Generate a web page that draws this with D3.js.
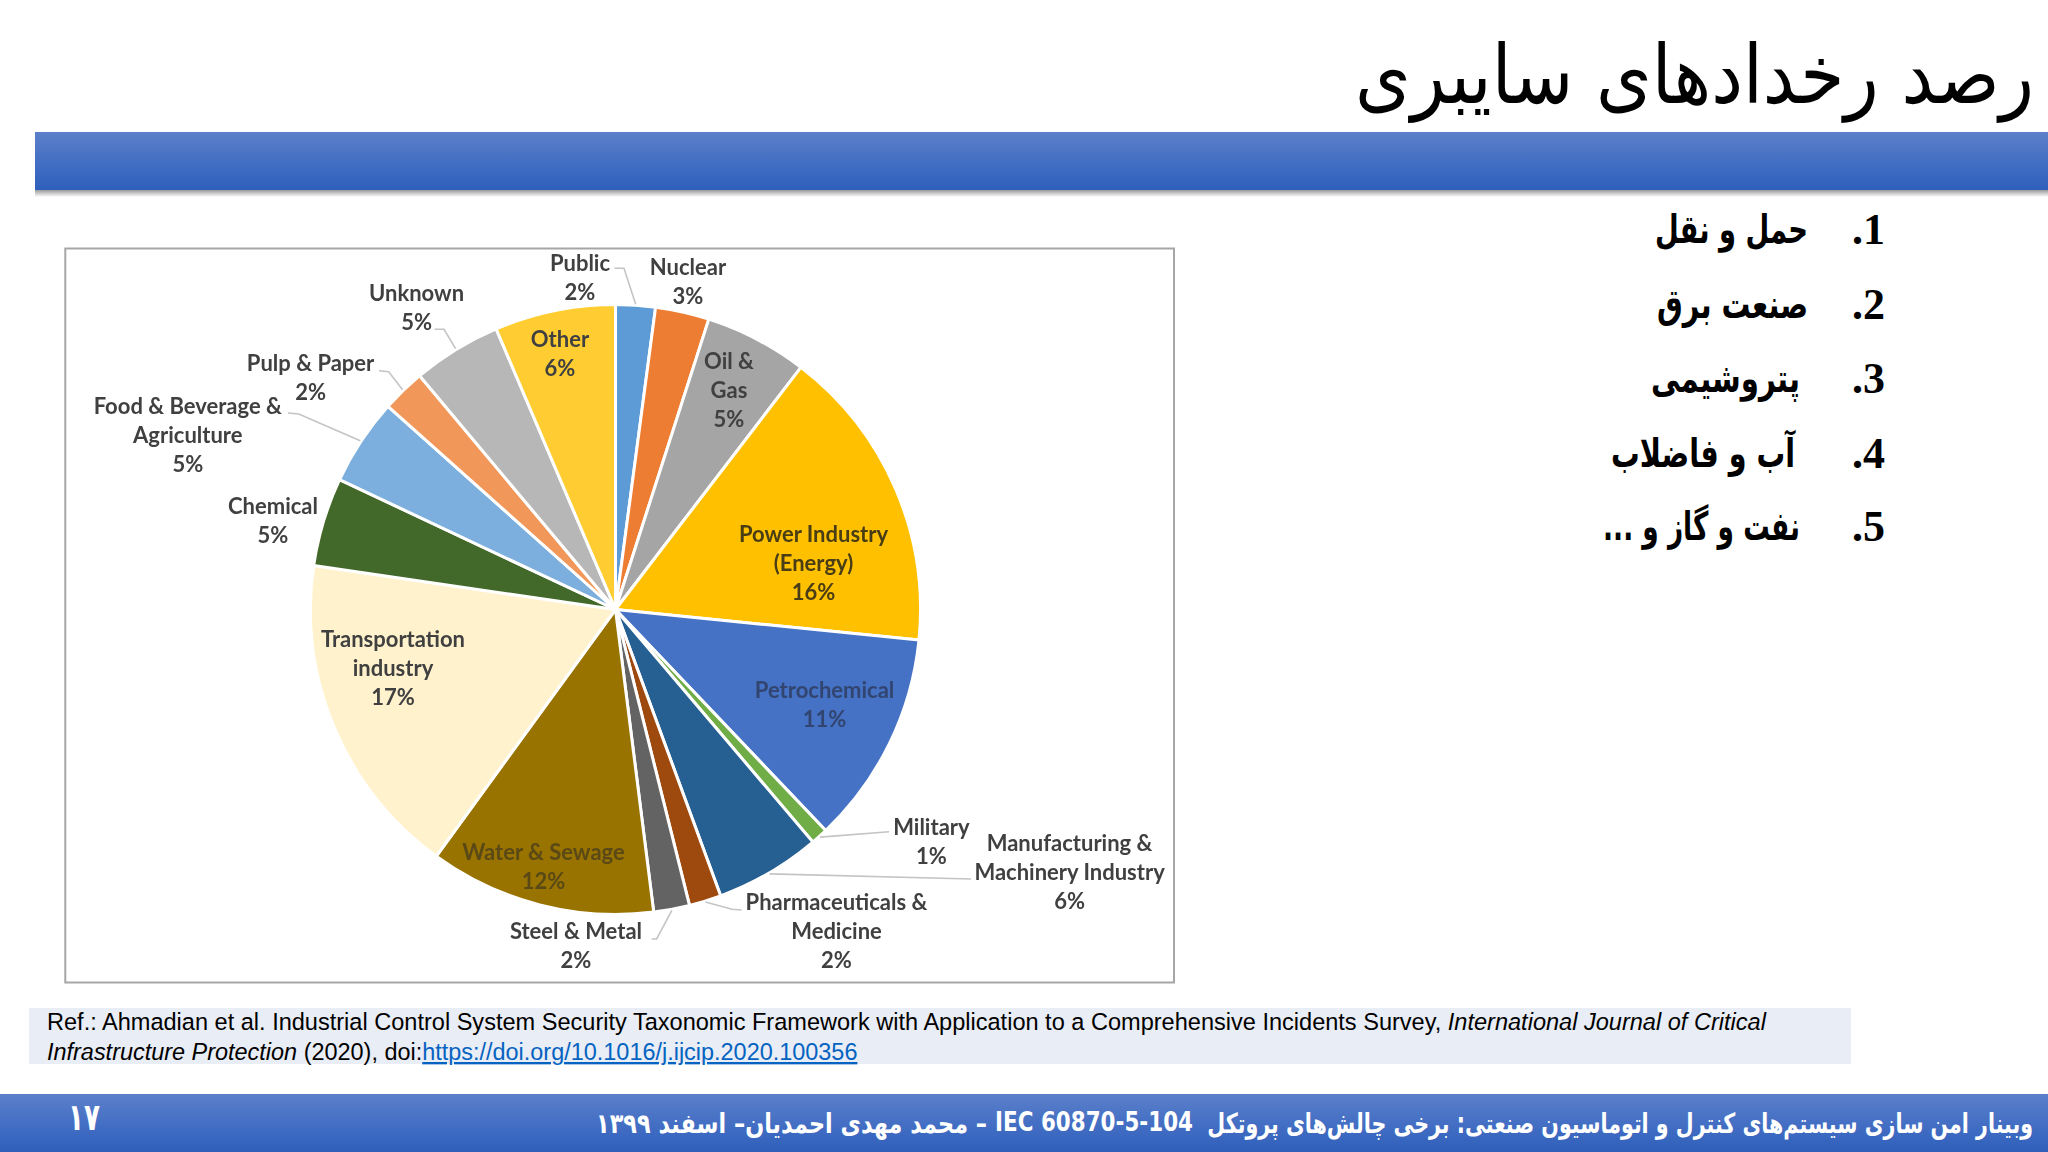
<!DOCTYPE html>
<html lang="fa"><head><meta charset="utf-8">
<script src="https://cdnjs.cloudflare.com/ajax/libs/d3/7.8.5/d3.min.js"></script>
<style>html,body{margin:0;padding:0;background:#fff;overflow:hidden}svg{display:block}</style>
</head><body><svg id="c" width="2048" height="1152" xmlns="http://www.w3.org/2000/svg"></svg>
<script>
// ---- data ----
const sectors = ["Public","Nuclear","Oil & Gas","Power Industry (Energy)","Petrochemical","Military","Manufacturing & Machinery Industry","Pharmaceuticals & Medicine","Steel & Metal","Water & Sewage","Transportation industry","Chemical","Food & Beverage & Agriculture","Pulp & Paper","Unknown","Other"];
const shares = [2.1,2.85,5.45,16.2,11.3,0.9,5.6,1.7,1.9,12,17.3,4.7,4.6,2.3,4.7,6.4];
const percentLabels = ["2%","3%","5%","16%","11%","1%","6%","2%","2%","12%","17%","5%","5%","2%","5%","6%"];
const sliceColors = ["#5b9bd5","#ed7d31","#a5a5a5","#ffc000","#4472c4","#70ad47","#255e91","#9e480e","#636363","#997300","#fff2cc","#43682b","#7cafdd","#f1975a","#b7b7b7","#ffcd33"];
const labelLines = [["Public"],["Nuclear"],["Oil &","Gas"],["Power Industry","(Energy)"],["Petrochemical"],["Military"],["Manufacturing &","Machinery Industry"],["Pharmaceuticals &","Medicine"],["Steel & Metal"],["Water & Sewage"],["Transportation","industry"],["Chemical"],["Food & Beverage &","Agriculture"],["Pulp & Paper"],["Unknown"],["Other"]];
const titleText = "رصد رخدادهای سایبری";
const listItems = ["حمل و نقل","صنعت برق","پتروشیمی","آب و فاضلاب","نفت و گاز و ..."];
const listNumbers = ["1.","2.","3.","4.","5."];
const footerParts = ["وبینار امن سازی سیستم‌های کنترل و اتوماسیون صنعتی: برخی چالش‌های پروتکل","IEC 60870-5-104","– محمد مهدی احمدیان– اسفند  ۱۳۹۹"];
const pageNumber = "۱۷";

// ---- layout (not data) ----
const W = 2048, H = 1152;
const pieCx = 615.5, pieCy = 609.5, pieR = 305;
const labelPos = [[580,263.5],[688,267.5],[729,361.5],[813.5,534.5],[824.6,690.5],[931.4,827.5],[1069.6,843.5],[836.5,902],[576,931],[543.5,852],[393,639.5],[273,506],[187.8,406.5],[310.6,363.5],[416.6,293.5],[560,339.5]];
const labelFill = {4:"#33456f",9:"#5a4a14",3:"#4a3c12"};
const leaders = {0:[[614.5,268.3],[624,268.3]],14:[[434.6,329.3],[444,329.3]],13:[[379,370.7],[388.7,371.7]],12:[[288,413],[298.8,414]],5:[[889,831.7]],6:[[971,879]],7:[[741.6,910],[732,909.3]],8:[[651.7,939],[656.6,939]]};

const svg = d3.select("#c");
const defs = svg.append("defs");
const grad = defs.append("linearGradient").attr("id","band").attr("x1",0).attr("x2",0).attr("y1",0).attr("y2",1);
grad.append("stop").attr("offset","0").attr("stop-color","#5c80ca");
grad.append("stop").attr("offset","0.5").attr("stop-color","#446fc4");
grad.append("stop").attr("offset","1").attr("stop-color","#2f5fbb");
const shade = defs.append("linearGradient").attr("id","shade").attr("x1",0).attr("x2",0).attr("y1",0).attr("y2",1);
shade.append("stop").attr("offset","0").attr("stop-color","#9a9a9a");
shade.append("stop").attr("offset","1").attr("stop-color","#ffffff");
defs.append("filter").attr("id","soft").attr("x","-5%").attr("y","-5%").attr("width","110%").attr("height","110%")
  .append("feGaussianBlur").attr("stdDeviation",0.55);

svg.append("rect").attr("width",W).attr("height",H).attr("fill","#fff");

// Fits a text to a target width by scaling around its anchor; sy stretches it vertically.
function fit(sel, x, y, width, sy){
  const w = sel.node().getComputedTextLength();
  sel.attr("transform",`translate(${x},${y}) scale(${width/w},${sy||1})`);
  return sel;
}
function rtlText(parent, str, fam, size, weight, fill){
  return parent.append("text").text(str)
    .attr("font-family",fam).attr("font-size",size).attr("font-weight",weight).attr("fill",fill)
    .style("direction","rtl").style("unicode-bidi","embed").attr("text-anchor","start");
}
const persian = "'DejaVu Sans'";

// Header
fit(rtlText(svg,titleText,persian,58,400,"#000"),2034,103,679,1.4);
svg.append("rect").attr("x",35).attr("y",190).attr("width",W-35).attr("height",7).attr("fill","url(#shade)");
svg.append("rect").attr("x",35).attr("y",132).attr("width",W-35).attr("height",58).attr("fill","url(#band)");

// Chart frame
const chart = svg.append("g").attr("filter","url(#soft)");
chart.append("rect").attr("x",65.3).attr("y",248.5).attr("width",1108.7).attr("height",734).attr("fill","#fff").attr("stroke","#a6a6a6").attr("stroke-width",2);

// Pie
const pieGen = d3.pie().value(d=>d).sort(null)(shares);
const arc = d3.arc().innerRadius(0).outerRadius(pieR);
const edge = d3.arc().innerRadius(pieR+1).outerRadius(pieR+1);
const pg = chart.append("g").attr("transform",`translate(${pieCx},${pieCy})`);
pg.selectAll("path").data(pieGen).join("path")
  .attr("d",arc).attr("fill",(d,i)=>sliceColors[i]).attr("stroke","#fff").attr("stroke-width",3).attr("stroke-linejoin","round");

// Leader lines
const lineGen = d3.line();
Object.keys(leaders).forEach(k=>{
  const i = +k, c = edge.centroid(pieGen[i]);
  const pts = leaders[k].concat([[pieCx+c[0],pieCy+c[1]]]);
  chart.append("path").attr("d",lineGen(pts)).attr("fill","none").attr("stroke","#c4c4c4").attr("stroke-width",1.6);
});

// Labels
sectors.forEach((name,i)=>{
  const rows = labelLines[i].concat([percentLabels[i]]);
  const [x,y] = labelPos[i];
  const t = chart.append("text").attr("font-family","Lato, 'Open Sans', sans-serif").attr("font-weight",700).attr("font-size",22)
    .attr("fill",labelFill[i]||"#404040").attr("text-anchor","middle").attr("aria-label",name);
  rows.forEach((r,j)=>t.append("tspan").attr("x",x).attr("y",y+j*29).attr("dy","0.35em").text(r));
});

// Numbered list
const listY = [231,306,380,455,528];
const listRight = [1808,1808,1800,1795,1800];
const listWidth = [153,151,149,184,197];
listItems.forEach((s,i)=>{
  fit(rtlText(svg,s,persian,36,700,"#000").attr("dy","0.3em"),listRight[i],listY[i],listWidth[i],1.1);
  rtlText(svg,listNumbers[i],"'Liberation Serif'",44,700,"#000").attr("x",1885).attr("y",listY[i]+13);
});

// Reference box
svg.append("rect").attr("x",29).attr("y",1008).attr("width",1822).attr("height",56).attr("fill","#e9edf5");
const refFont = "'Liberation Sans'";
const r1 = svg.append("text").attr("x",47).attr("y",1030).attr("font-family",refFont).attr("font-size",23.55).attr("fill","#000");
r1.append("tspan").text("Ref.: Ahmadian et al. Industrial Control System Security Taxonomic Framework with Application to a Comprehensive Incidents Survey, ");
r1.append("tspan").attr("font-style","italic").text("International Journal of Critical");
const r2 = svg.append("text").attr("x",47).attr("y",1060).attr("font-family",refFont).attr("font-size",23.45).attr("fill","#000");
r2.append("tspan").attr("font-style","italic").text("Infrastructure Protection");
r2.append("tspan").text(" (2020), doi:");
r2.append("tspan").attr("fill","#0563c1").attr("text-decoration","underline").text("https://doi.org/10.1016/j.ijcip.2020.100356");

// Footer
svg.append("rect").attr("x",0).attr("y",1094).attr("width",W).attr("height",58).attr("fill","url(#band)");
const footRight = [2033,1193,987], footWidth = [826,198,391];
footerParts.forEach((s,i)=>{
  if(i===1){
    const t = svg.append("text").text(s).attr("font-family",persian).attr("font-size",24).attr("font-weight",700).attr("fill","#fff").attr("text-anchor","end");
    fit(t,footRight[i],1131,footWidth[i],1.1);
  } else {
    fit(rtlText(svg,s,persian,24,700,"#fff"),footRight[i],1133,footWidth[i],1.15);
  }
});
fit(svg.append("text").text(pageNumber).attr("text-anchor","middle").attr("font-family",persian).attr("font-weight",700).attr("font-size",30).attr("fill","#fff"),84,1130,32,1.25);
</script></body></html>
